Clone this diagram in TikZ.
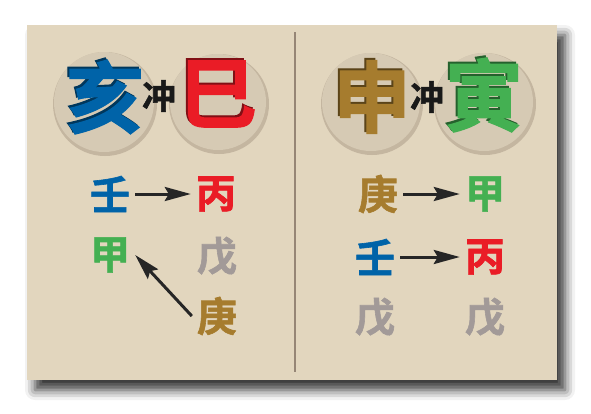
\documentclass[tikz,border=0pt]{standalone}
\usepackage{fontspec}
\newfontfamily\cjk{Noto Sans CJK SC}[BoldFont={Noto Sans CJK SC Bold}, BoldFeatures={FakeBold=1.5}]
\usetikzlibrary{arrows.meta,shadows.blur}
\definecolor{paper}{RGB}{226,214,190}
\definecolor{disc}{RGB}{214,202,180}
\definecolor{rim}{RGB}{196,182,160}
\definecolor{zblue}{RGB}{0,99,168}
\definecolor{zred}{RGB}{234,28,38}
\definecolor{zgreen}{RGB}{68,176,82}
\definecolor{zgold}{RGB}{166,124,46}
\definecolor{zgray}{RGB}{162,154,152}
\definecolor{divider}{RGB}{150,134,118}

\begin{document}
\begin{tikzpicture}[
  x=1pt, y=-1pt,
  arr/.style={-{Stealth[length=26pt, width=14pt, inset=4pt]}, line width=3pt, black!85},
  big/.style={font=\cjk\bfseries\fontsize{78}{78}\selectfont, inner sep=0pt},
  small/.style={font=\cjk\bfseries\fontsize{40}{40}\selectfont, inner sep=5pt},
  chong/.style={font=\cjk\bfseries\fontsize{34}{34}\selectfont, inner sep=0pt, black!90}
]
\useasboundingbox (0,0) rectangle (591,413);

% Card with drop shadow
\fill[paper, blur shadow={shadow xshift=8pt, shadow yshift=-10pt,
  shadow blur radius=10pt, shadow opacity=80}] (27,25) rectangle (557,380);

% Divider
\draw[divider, line width=2pt] (295,32) -- (295,372);

% Discs behind the big branches
\foreach \cx/\r in {104/52, 218/50, 371/51, 484/51} {
  \fill[rim] (\cx+1,104) circle (\r);
  \fill[disc] (\cx,102) circle (\r-2);
}

% Big branches (dark copy gives the engraved edge)
\foreach \nm/\px/\py/\ch/\col in {hai/105/97/亥/zblue, si/218/94/巳/zred,
  shen/372/97/申/zgold, yin/484/95/寅/zgreen} {
  \node[big, text=\col!55!black] at (\px-2,\py-2) {\ch};
  \node[big, text=\col] (\nm) at (\px,\py) {\ch};
}
\node[chong] (lchong) at (159,96) {冲};
\node[chong] (rchong) at (427,97) {冲};

% Left: hidden stems
\node[small, text=zblue]  (lren)  at (110,194) {壬};
\node[small, text=zred]   (lbing) at (216,194) {丙};
\node[small, text=zgreen] (ljia)  at (110,255) {甲};
\node[small, text=zgray]  (lwu)   at (217,256) {戊};
\node[small, text=zgold]  (lgeng) at (217,316) {庚};

\draw[arr] (lren) -- (lbing);
\draw[arr] (lgeng.west) -- (ljia.east);

% Right: hidden stems
\node[small, text=zgold]  (rgeng) at (378,194) {庚};
\node[small, text=zgreen] (rjia)  at (485,194) {甲};
\node[small, text=zblue]  (rren)  at (375,257) {壬};
\node[small, text=zred]   (rbing) at (485,257) {丙};
\node[small, text=zgray]  (rwua)  at (375,317) {戊};
\node[small, text=zgray]  (rwub)  at (485,317) {戊};

\draw[arr] (rgeng) -- (rjia);
\draw[arr] (rren) -- (rbing);

\end{tikzpicture}
\end{document}
